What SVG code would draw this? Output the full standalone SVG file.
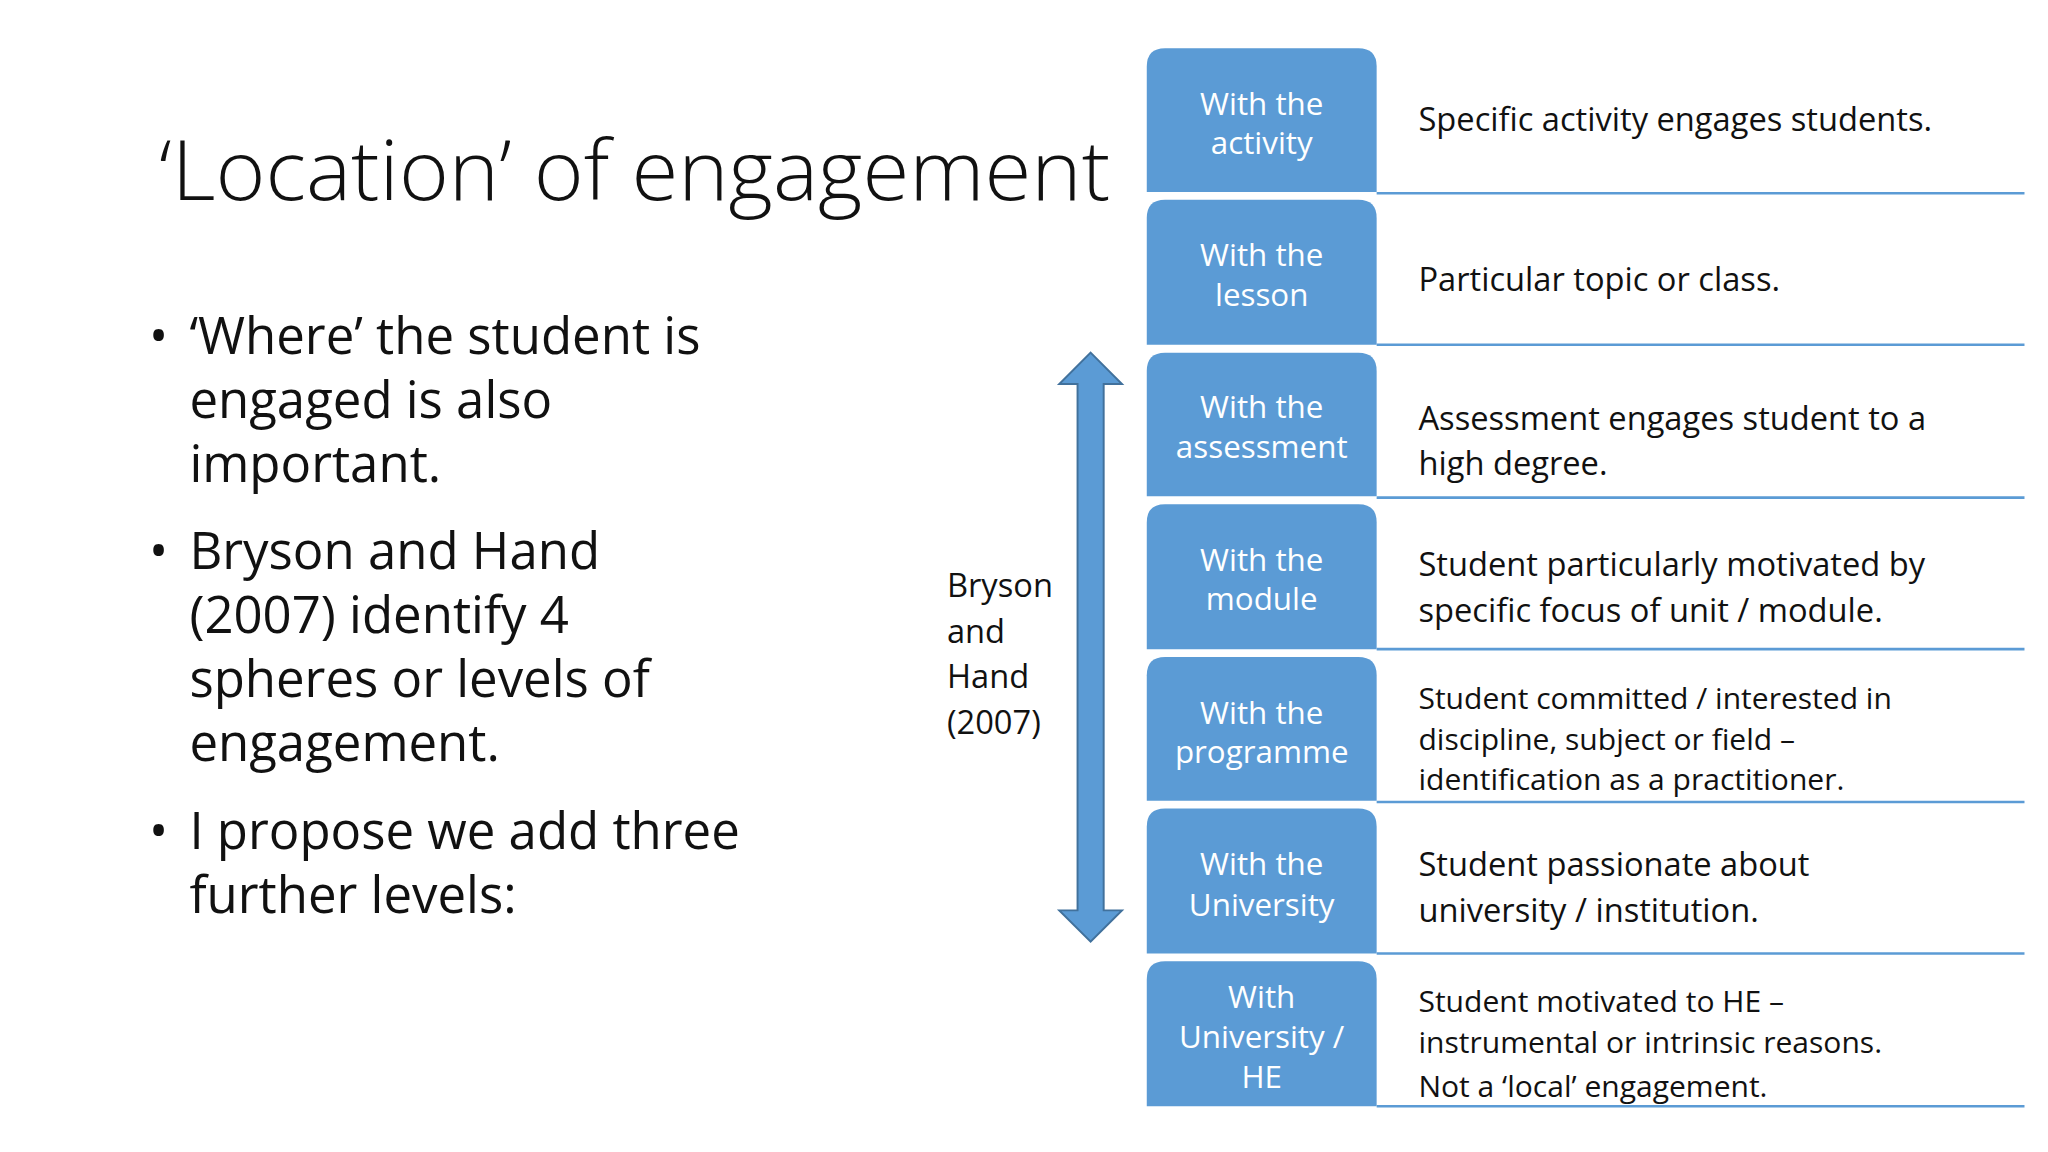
<svg xmlns="http://www.w3.org/2000/svg" width="2048" height="1152" viewBox="0 0 2048 1152">
<style>
text{font-family:"Open Sans","Liberation Sans",sans-serif;fill:#111}
.t{font-size:63px;font-weight:300}
.b{font-size:39px}
.s{font-size:25px}
.w{font-size:24px;fill:#fff;text-anchor:middle}
.box{fill:#5b9bd5}
.ln{stroke:#5b9bd5;stroke-width:2}
</style>
<rect width="2048" height="1152" fill="#fff"/>
<g transform="scale(1.30612)">
<text class="t" x="122" y="153" textLength="728" lengthAdjust="spacingAndGlyphs">‘Location’ of engagement</text>
<g id="bullets">
<text class="b" x="114" y="271">•</text>
<text class="b" x="145" y="271">‘Where’ the student is</text>
<text class="b" x="145" y="320">engaged is also</text>
<text class="b" x="145" y="369">important.</text>
<text class="b" x="114" y="436">•</text>
<text class="b" x="145" y="436">Bryson and Hand</text>
<text class="b" x="145" y="485">(2007) identify 4</text>
<text class="b" x="145" y="534">spheres or levels of</text>
<text class="b" x="145" y="583">engagement.</text>
<text class="b" x="114" y="650">•</text>
<text class="b" x="145" y="650">I propose we add three</text>
<text class="b" x="145" y="699">further levels:</text>
</g>
<g id="label">
<text class="s" x="725" y="457">Bryson</text>
<text class="s" x="725" y="492">and</text>
<text class="s" x="725" y="527">Hand</text>
<text class="s" x="725" y="562">(2007)</text>
</g>
<g id="connectors">
<path d="M835 270 L859 294 L845 294 L845 697 L859 697 L835 721 L811 697 L825 697 L825 294 L811 294 Z" fill="#5b9bd5" stroke="#41719c" stroke-width="1.5"/>
</g>
<g id="n1"><path class="box" d="M878 147 V51 Q878 37 892 37 H1040 Q1054 37 1054 51 V147 Z"/><line class="ln" x1="1054" y1="148" x2="1550" y2="148"/>
<text class="w" x="966" y="88">With the</text><text class="w" x="966" y="118">activity</text>
<text class="s" x="1086" y="100">Specific activity engages students.</text></g>
<g id="n2"><path class="box" d="M878 264 V167 Q878 153 892 153 H1040 Q1054 153 1054 167 V264 Z"/><line class="ln" x1="1054" y1="264" x2="1550" y2="264"/>
<text class="w" x="966" y="204">With the</text><text class="w" x="966" y="234">lesson</text>
<text class="s" x="1086" y="223">Particular topic or class.</text></g>
<g id="n3"><path class="box" d="M878 380 V284 Q878 270 892 270 H1040 Q1054 270 1054 284 V380 Z"/><line class="ln" x1="1054" y1="381" x2="1550" y2="381"/>
<text class="w" x="966" y="320">With the</text><text class="w" x="966" y="351">assessment</text>
<text class="s" x="1086" y="329">Assessment engages student to a</text><text class="s" x="1086" y="364">high degree.</text></g>
<g id="n4"><path class="box" d="M878 497 V400 Q878 386 892 386 H1040 Q1054 386 1054 400 V497 Z"/><line class="ln" x1="1054" y1="497" x2="1550" y2="497"/>
<text class="w" x="966" y="437">With the</text><text class="w" x="966" y="467">module</text>
<text class="s" x="1086" y="441">Student particularly motivated by</text><text class="s" x="1086" y="476">specific focus of unit / module.</text></g>
<g id="n5"><path class="box" d="M878 613 V517 Q878 503 892 503 H1040 Q1054 503 1054 517 V613 Z"/><line class="ln" x1="1054" y1="614" x2="1550" y2="614"/>
<text class="w" x="966" y="554">With the</text><text class="w" x="966" y="584">programme</text>
<text class="s" x="1086" y="543" style="font-size:23px">Student committed / interested in</text><text class="s" x="1086" y="574" style="font-size:23px">discipline, subject or field –</text><text class="s" x="1086" y="605" style="font-size:23px">identification as a practitioner.</text></g>
<g id="n6"><path class="box" d="M878 730 V633 Q878 619 892 619 H1040 Q1054 619 1054 633 V730 Z"/><line class="ln" x1="1054" y1="730" x2="1550" y2="730"/>
<text class="w" x="966" y="670">With the</text><text class="w" x="966" y="701">University</text>
<text class="s" x="1086" y="671">Student passionate about</text><text class="s" x="1086" y="706">university / institution.</text></g>
<g id="n7"><path class="box" d="M878 847 V750 Q878 736 892 736 H1040 Q1054 736 1054 750 V847 Z"/><line class="ln" x1="1054" y1="847" x2="1550" y2="847"/>
<text class="w" x="966" y="772">With</text><text class="w" x="966" y="802">University /</text><text class="w" x="966" y="833">HE</text>
<text class="s" x="1086" y="775" style="font-size:23px">Student motivated to HE –</text><text class="s" x="1086" y="806" style="font-size:23px">instrumental or intrinsic reasons.</text><text class="s" x="1086" y="840" style="font-size:23px">Not a ‘local’ engagement.</text></g>
</g>
</svg>
